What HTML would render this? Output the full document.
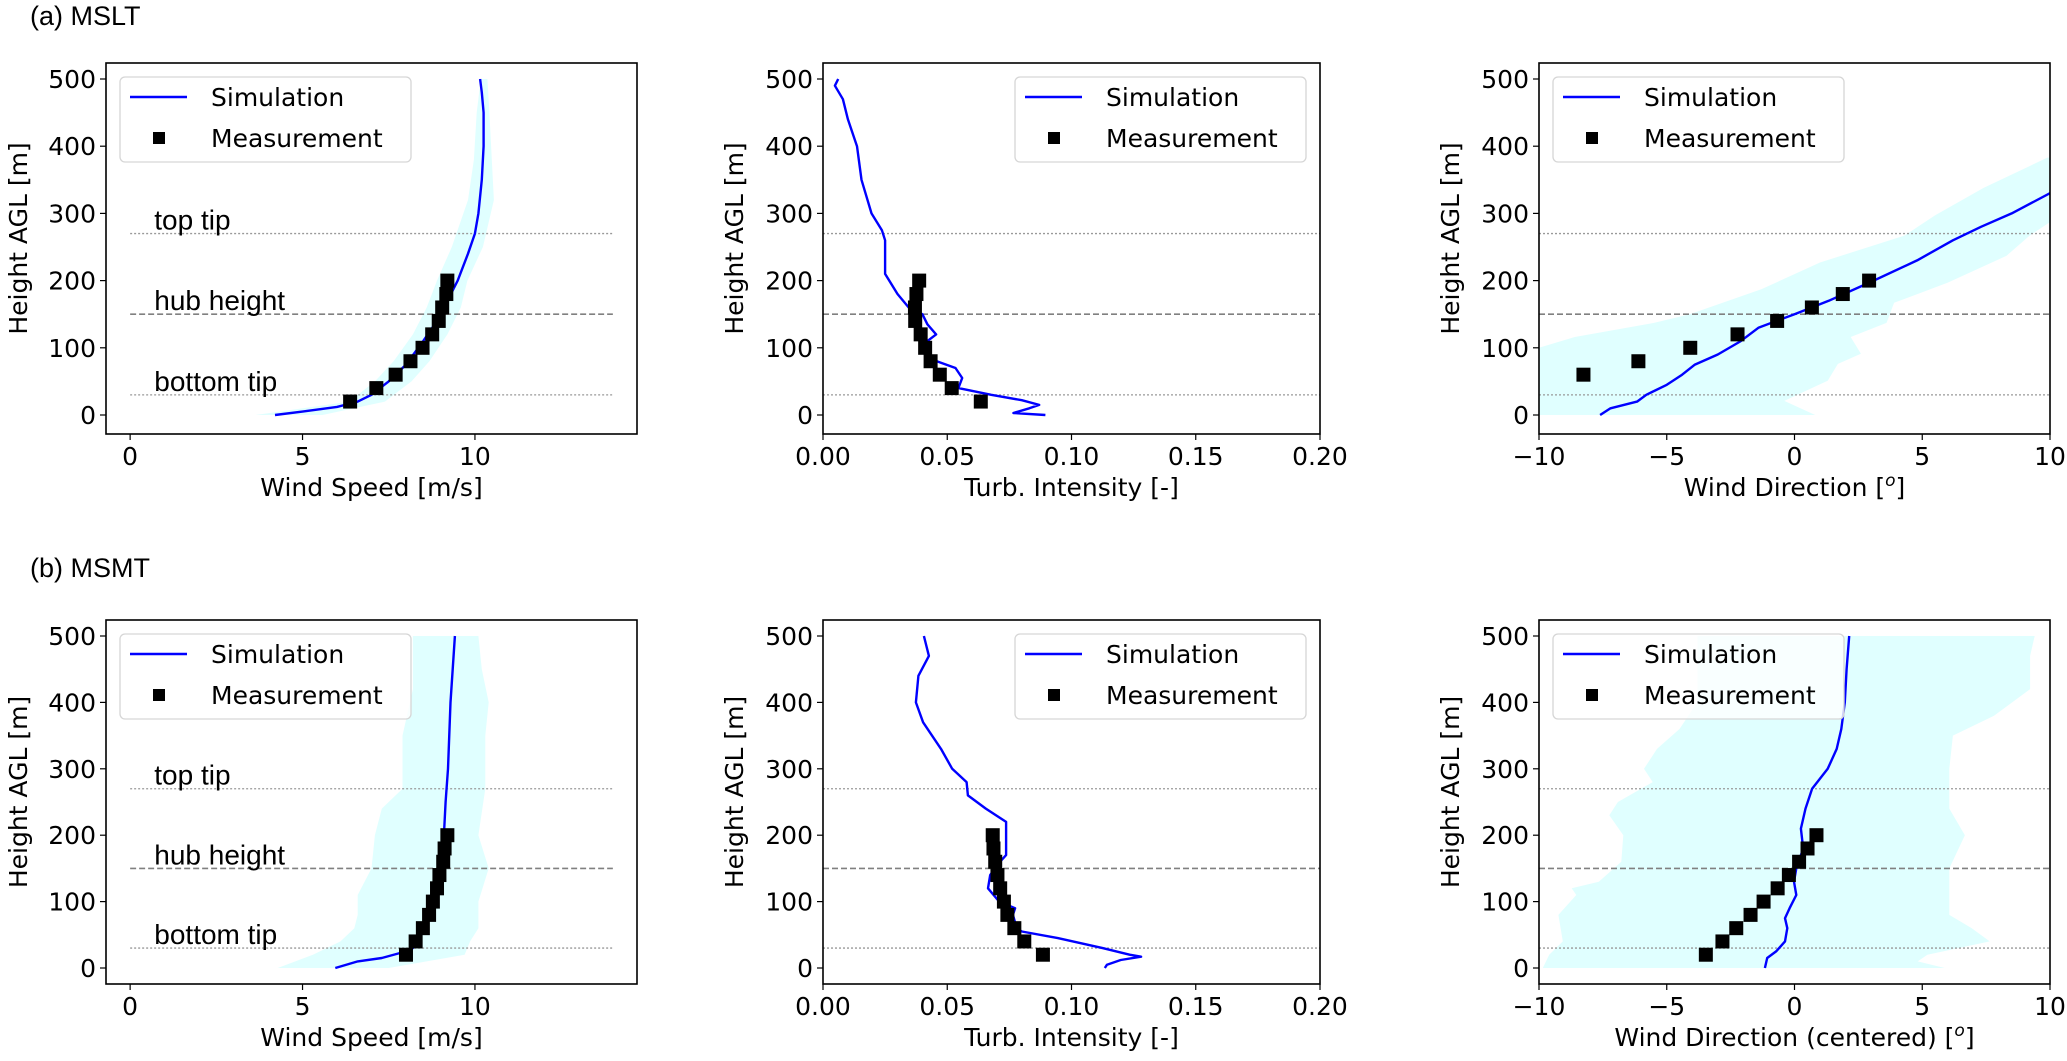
<!DOCTYPE html>
<html><head><meta charset="utf-8"><style>
html,body{margin:0;padding:0;background:#fff;}
svg{display:block;}
</style></head><body>
<svg id="fig" width="2067" height="1061" viewBox="0 0 2067 1061" xmlns="http://www.w3.org/2000/svg"></svg>
<script>
// ---------------- DATA ----------------
const refHeights = [270, 150, 30];
const refStyles = ['tip','hub','tip'];
const refLabels = ['top tip','hub height','bottom tip'];
const measHeights = [20,40,60,80,100,120,140,160,180,200];
const measHeightsDir = [60,80,100,120,140,160,180,200];
const yTicks = [0,100,200,300,400,500];
const xTicksWS = [0,5,10];
const xTicksTI = [0,0.05,0.10,0.15,0.20];
const xTickLabelsTI = ['0.00','0.05','0.10','0.15','0.20'];
const xTicksWD = [-10,-5,0,5,10];
const xTickLabelsWD = ['\u221210','\u22125','0','5','10'];

// (a) MSLT wind speed
const a_ws_simZ = [0,5,12,20,30,50,75,110,140,170,200,240,270,300,350,400,450,480,500];
const a_ws_sim  = [4.2,5,6,6.6,7,7.5,8,8.5,8.9,9.2,9.5,9.8,10,10.1,10.2,10.25,10.25,10.2,10.15];
const a_ws_meas = [6.38,7.14,7.70,8.13,8.48,8.76,8.95,9.05,9.17,9.2];
const a_ws_bandZ = [0,20,50,80,120,160,200,250,320,380,450,500];
const a_ws_lo = [3.64,6.36,7.1,7.64,8.2,8.6,8.9,9.33,9.8,9.97,10.05,10.17];
const a_ws_hi = [5.58,7.39,8.16,8.68,9.2,9.59,9.78,10.23,10.55,10.49,10.42,10.36];
// (a) MSLT TI
const a_ti_simZ = [0,3,10,15,22,30,40,55,70,85,95,110,120,135,150,160,180,210,260,275,300,350,400,440,470,490,500];
const a_ti_sim  = [0.0895,0.0766,0.083,0.087,0.080,0.0677,0.0545,0.056,0.0533,0.042,0.040,0.042,0.0455,0.042,0.040,0.0345,0.030,0.025,0.025,0.0237,0.0195,0.0155,0.0137,0.010,0.008,0.0048,0.0061];
const a_ti_meas = [0.0635,0.0518,0.0470,0.0433,0.0411,0.0393,0.0371,0.0370,0.0376,0.0387];
// (a) MSLT wind direction
const a_wd_simZ = [0,10,20,30,45,60,75,90,110,130,150,170,200,230,260,280,300,330];
const a_wd_sim  = [-7.61,-7.2,-6.16,-5.8,-5.0,-4.4,-3.9,-3.0,-2.1,-1.4,0.0,1.34,3.1,4.8,6.2,7.3,8.5,10];
const a_wd_meas = [-8.26,-6.11,-4.08,-2.23,-0.68,0.68,1.89,2.92];
const a_wd_loZ = [0,100,116,137,150,187,227,267,297,338,383];
const a_wd_lo  = [-10,-10,-8.6,-5.5,-4.1,-1.3,1.0,4.3,5.5,7.4,9.9];
const a_wd_hiZ = [0,21,51,76,91,116,137,167,197,237,267,287,383];
const a_wd_hi  = [0.81,-0.4,1.3,1.7,2.6,2.2,3.6,3.9,6.0,8.3,9.2,10,10];

// (b) MSMT wind speed
const b_ws_simZ = [0,10,15,25,30,50,80,120,160,200,250,300,400,500];
const b_ws_sim  = [5.95,6.6,7.3,8.0,8.2,8.4,8.7,8.9,9.02,9.1,9.15,9.22,9.29,9.42];
const b_ws_meas = [8.0,8.28,8.49,8.67,8.78,8.9,8.97,9.08,9.12,9.2];
const b_ws_loZ = [0,20,40,60,80,110,150,200,240,270,350,420,500];
const b_ws_lo  = [4.28,5.3,6.1,6.5,6.6,6.6,7.0,7.1,7.3,7.9,7.9,8.2,8.2];
const b_ws_hiZ = [0,20,40,60,100,150,200,270,350,400,450,500];
const b_ws_hi  = [7.5,9.7,9.86,10.1,10.1,10.4,10.1,10.3,10.3,10.4,10.2,10.1];
// (b) MSMT TI
const b_ti_simZ = [0,5,12,17,20,30,45,55,60,80,90,100,120,140,155,170,200,220,240,260,280,300,330,370,400,440,470,500];
const b_ti_sim  = [0.1134,0.1143,0.1198,0.128,0.1234,0.1125,0.0945,0.080,0.078,0.0764,0.0773,0.0709,0.0664,0.0673,0.0700,0.0737,0.0737,0.0737,0.0655,0.0583,0.0578,0.052,0.0475,0.0403,0.0374,0.0384,0.0426,0.0406];
const b_ti_meas = [0.0885,0.081,0.077,0.0742,0.0728,0.0713,0.0702,0.0693,0.0686,0.0683];
// (b) MSMT wind direction (centered)
const b_wd_simZ = [0,15,25,40,60,75,90,110,130,150,180,210,240,270,300,330,360,400,450,500];
const b_wd_sim  = [-1.16,-1.07,-0.72,-0.37,-0.28,-0.37,-0.19,0.07,-0.02,0.07,0.34,0.25,0.43,0.69,1.3,1.65,1.83,1.97,2.04,2.14];
const b_wd_meas = [-3.47,-2.82,-2.28,-1.72,-1.21,-0.66,-0.22,0.18,0.51,0.86];
const b_wd_loZ = [0,20,40,80,110,120,130,160,200,230,250,280,300,330,360,400,450,500];
const b_wd_lo  = [-9.85,-9.6,-9.07,-9.24,-8.54,-8.72,-7.66,-6.78,-6.7,-7.25,-6.91,-5.55,-5.89,-5.38,-4.5,-3.8,-3.8,-3.8];
const b_wd_hiZ = [0,10,20,40,60,80,110,150,200,240,300,350,380,420,470,500];
const b_wd_hi  = [5.88,4.82,5.2,7.64,6.94,6.06,6.06,6.06,6.67,6.06,6.06,6.2,7.81,9.22,9.22,9.4];

// ---------------- RENDER ----------------
const NS='http://www.w3.org/2000/svg';
const svg=document.getElementById('fig');
function mk(tag,attrs,parent){const e=document.createElementNS(NS,tag);for(const k in attrs)e.setAttribute(k,attrs[k]);(parent||svg).appendChild(e);return e;}
const TICKF='"DejaVu Sans", "Liberation Sans", sans-serif';
const CALF='"Liberation Sans", sans-serif';

const rows=[{top:63,bottom:434,y500:79,y0:415},{top:620,bottom:984,y500:636,y0:968}];
const cols=[{l:106,r:637,xmin:-0.7,xmax:14.7},{l:823,r:1320,xmin:0,xmax:0.2},{l:1539,r:2050,xmin:-10,xmax:10}];

function panel(ri,ci,opt){
  const R=rows[ri],C=cols[ci];
  const g=mk('g',{});
  
  
  const sx=v=>C.l+(v-C.xmin)/(C.xmax-C.xmin)*(C.r-C.l);
  const sy=z=>R.y0+(z)*(R.y500-R.y0)/500;
  const clipId='clip'+ri+ci;
  const cp=mk('clipPath',{id:clipId},g);mk('rect',{x:C.l,y:R.top,width:C.r-C.l,height:R.bottom-R.top},cp);
  const inner=mk('g',{'clip-path':'url(#'+clipId+')'},g);
  // band
  if(opt.bandLo){
    let pts=[];
    for(let i=0;i<opt.bandLo.length;i++)pts.push(sx(opt.bandLo[i]).toFixed(1)+','+sy(opt.bandLoZ[i]).toFixed(1));
    for(let i=opt.bandHi.length-1;i>=0;i--)pts.push(sx(opt.bandHi[i]).toFixed(1)+','+sy(opt.bandHiZ[i]).toFixed(1));
    const b=mk('polygon',{points:pts.join(' '),fill:'#e0ffff',stroke:'none'},inner);
    
    
  }
  // reference lines
  for(let i=0;i<refHeights.length;i++){
    const x1=opt.refFrom!==undefined?sx(opt.refFrom):C.l, x2=opt.refTo!==undefined?sx(opt.refTo):C.r;
    const hub=refStyles[i]==='hub';
    const ln=mk('line',{x1:x1,x2:x2,y1:sy(refHeights[i]),y2:sy(refHeights[i]),stroke:hub?'#808080':'#999','stroke-width':hub?1.6:1.3,'stroke-dasharray':hub?'6,3':'2,2'},inner);
    
    
    if(opt.refText){
      const t=mk('text',{x:sx(0.7),y:sy(refHeights[i])-4,'font-family':CALF,'font-size':28,fill:'#000'},g);
      t.textContent=refLabels[i];
      
      
    }
  }
  // sim line
  const d=opt.sim.map((v,i)=>(i?'L':'M')+sx(v).toFixed(1)+','+sy(opt.simZ[i]).toFixed(1)).join(' ');
  const pl=mk('path',{d:d,fill:'none',stroke:'#0000ff','stroke-width':2.4,'stroke-linejoin':'round'},inner);
  
  
  // measurements
  for(let i=0;i<opt.meas.length;i++){
    const m=mk('rect',{x:sx(opt.meas[i])-7,y:sy(opt.measZ[i])-7,width:14,height:14,fill:'#000'},inner);
    
    
  }
  // spines
  const sp=mk('rect',{x:C.l,y:R.top,width:C.r-C.l,height:R.bottom-R.top,fill:'none',stroke:'#000','stroke-width':1.6},g);
  
  
  // y ticks
  for(const v of yTicks){
    const y=sy(v);
    mk('line',{x1:C.l-6,x2:C.l,y1:y,y2:y,stroke:'#000','stroke-width':1.2},g);
    const t=mk('text',{x:C.l-10,y:y+9,'text-anchor':'end','font-family':TICKF,'font-size':25,fill:'#000'},g);
    t.textContent=String(v);
    
    
  }
  // x ticks
  for(let i=0;i<opt.xt.length;i++){
    const x=sx(opt.xt[i]);
    mk('line',{x1:x,x2:x,y1:R.bottom,y2:R.bottom+6,stroke:'#000','stroke-width':1.2},g);
    const t=mk('text',{x:x,y:R.bottom+31,'text-anchor':'middle','font-family':TICKF,'font-size':25,fill:'#000'},g);
    t.textContent=opt.xtl[i];
    
    
  }
  // axis labels
  const xl=mk('text',{x:(C.l+C.r)/2,y:R.bottom+62,'text-anchor':'middle','font-family':TICKF,'font-size':25,fill:'#000'},g);
  xl.innerHTML=opt.xlabel;
  
  
  const ycx=[18,734,1450][ci], ycy=(R.top+R.bottom)/2-10;
  const yl=mk('text',{x:0,y:0,'text-anchor':'middle','font-family':TICKF,'font-size':25,fill:'#000',transform:'translate('+(ycx+9)+','+ycy+') rotate(-90)'},g);
  yl.textContent='Height AGL [m]';
  
  
  // legend
  const lx=opt.legendRight?C.r-14-291:C.l+14, ly=R.top+14;
  const lg=mk('g',{},g);
  
  
  mk('rect',{x:lx,y:ly,width:291,height:85,rx:5,fill:'#fff','fill-opacity':0.8,stroke:'#d6d6d6','stroke-width':1.3},lg);
  mk('line',{x1:lx+10,x2:lx+67,y1:ly+20,y2:ly+20,stroke:'#0000ff','stroke-width':2.4},lg);
  mk('rect',{x:lx+33,y:ly+55,width:12,height:12,fill:'#000'},lg);
  const t1=mk('text',{x:lx+91,y:ly+29,'font-family':TICKF,'font-size':25,fill:'#000'},lg);t1.textContent='Simulation';
  
  
  const t2=mk('text',{x:lx+91,y:ly+70,'font-family':TICKF,'font-size':25,fill:'#000'},lg);t2.textContent='Measurement';
  
  
}

const sup='[<tspan font-style="italic" font-size="17" dy="-10">o</tspan><tspan dy="10">]</tspan>';
panel(0,0,{name:'a-wind-speed-panel',sim:a_ws_sim,simZ:a_ws_simZ,meas:a_ws_meas,measZ:measHeights,bandLo:a_ws_lo,bandLoZ:a_ws_bandZ,bandHi:a_ws_hi,bandHiZ:a_ws_bandZ,xt:xTicksWS,xtl:xTicksWS.map(String),xlabel:'Wind Speed [m/s]',refFrom:0,refTo:14,refText:true});
panel(0,1,{name:'a-turbulence-panel',sim:a_ti_sim,simZ:a_ti_simZ,meas:a_ti_meas,measZ:measHeights,xt:xTicksTI,xtl:xTickLabelsTI,xlabel:'Turb. Intensity [-]',legendRight:true});
panel(0,2,{name:'a-wind-direction-panel',sim:a_wd_sim,simZ:a_wd_simZ,meas:a_wd_meas,measZ:measHeightsDir,bandLo:a_wd_lo,bandLoZ:a_wd_loZ,bandHi:a_wd_hi,bandHiZ:a_wd_hiZ,xt:xTicksWD,xtl:xTickLabelsWD,xlabel:'Wind Direction '+sup});
panel(1,0,{name:'b-wind-speed-panel',sim:b_ws_sim,simZ:b_ws_simZ,meas:b_ws_meas,measZ:measHeights,bandLo:b_ws_lo,bandLoZ:b_ws_loZ,bandHi:b_ws_hi,bandHiZ:b_ws_hiZ,xt:xTicksWS,xtl:xTicksWS.map(String),xlabel:'Wind Speed [m/s]',refFrom:0,refTo:14,refText:true});
panel(1,1,{name:'b-turbulence-panel',sim:b_ti_sim,simZ:b_ti_simZ,meas:b_ti_meas,measZ:measHeights,xt:xTicksTI,xtl:xTickLabelsTI,xlabel:'Turb. Intensity [-]',legendRight:true});
panel(1,2,{name:'b-wind-direction-panel',sim:b_wd_sim,simZ:b_wd_simZ,meas:b_wd_meas,measZ:measHeights,bandLo:b_wd_lo,bandLoZ:b_wd_loZ,bandHi:b_wd_hi,bandHiZ:b_wd_hiZ,xt:xTicksWD,xtl:xTickLabelsWD,xlabel:'Wind Direction (centered) '+sup});

const ta=mk('text',{x:30,y:25,'font-family':CALF,'font-size':27,fill:'#000'});ta.textContent='(a) MSLT';


const tb=mk('text',{x:30,y:577,'font-family':CALF,'font-size':27,fill:'#000'});tb.textContent='(b) MSMT';


</script>
</body></html>
